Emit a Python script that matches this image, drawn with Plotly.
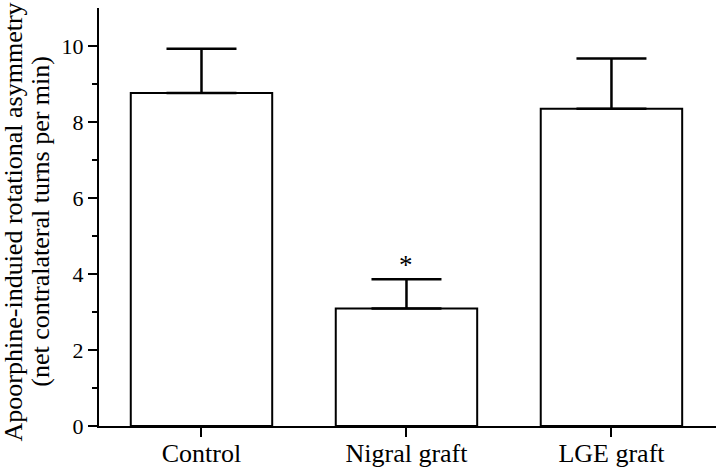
import plotly.graph_objects as go

categories = ["Control", "Nigral graft", "LGE graft"]
means = [8.76, 3.09, 8.35]
sem = [1.17, 0.77, 1.32]
sig_labels = ["", "*", ""]
sig_y = [None, 4.24, None]
y_title_lines = ["Apoorphine-induied rotational asymmetry", "(net contralateral turns per min)"]

font_family = "Liberation Serif, Times New Roman, serif"

fig = go.Figure()
fig.add_trace(go.Bar(
    x=categories, y=means, width=0.69,
    marker=dict(color="white", line=dict(color="black", width=2)),
    error_y=dict(type="data", array=sem, arrayminus=[0] * len(sem), symmetric=False,
                 color="black", thickness=2.5, width=35),
    showlegend=False, hoverinfo="skip",
))

for c, lab, yy in zip(categories, sig_labels, sig_y):
    if lab:
        fig.add_annotation(x=c, y=yy, text=lab, showarrow=False,
                           font=dict(family=font_family, size=27, color="black"),
                           yanchor="middle")

# y-axis title as two rotated lines
for line, xs, yp in zip(y_title_lines, [-86, -58.5], [0.487, 0.490]):
    fig.add_annotation(text=line, xref="paper", yref="paper", x=0, y=yp,
                       xshift=xs, xanchor="center", yanchor="middle",
                       textangle=-90, showarrow=False,
                       font=dict(family=font_family, size=26, color="black"))

fig.update_layout(
    width=720, height=473,
    margin=dict(l=99, r=4, t=8, b=47, autoexpand=False),
    paper_bgcolor="white", plot_bgcolor="white",
    font=dict(family=font_family, color="black"),
)
fig.update_xaxes(
    range=[-0.5, 2.51], showline=True, linecolor="black", linewidth=2,
    ticks="outside", ticklen=9, tickwidth=2, tickcolor="black",
    tickfont=dict(family=font_family, size=26), showgrid=False, zeroline=False,
    automargin=False, ticklabelstandoff=-6,
)
fig.update_yaxes(
    range=[0, 11], showline=True, linecolor="black", linewidth=2,
    tickvals=[0, 2, 4, 6, 8, 10],
    ticks="outside", ticklen=9, tickwidth=2, tickcolor="black",
    minor=dict(tickvals=[1, 3, 5, 7, 9], ticks="outside", ticklen=5, tickwidth=2, tickcolor="black"),
    tickfont=dict(family=font_family, size=22), showgrid=False, zeroline=False,
    automargin=False,
)

# remove the browser's default 8px body margin so the figure fills the window
fig.write_html("out.html", config={"displayModeBar": False},
               post_script="document.body.style.margin='0';")
